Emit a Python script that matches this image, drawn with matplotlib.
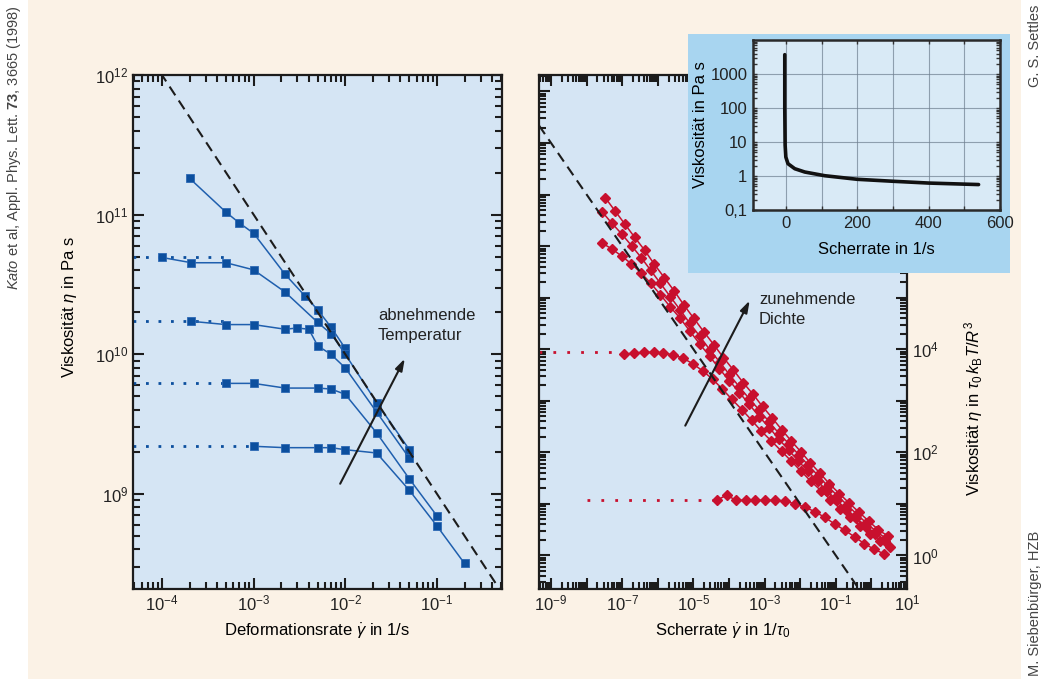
import numpy as np
import matplotlib.pyplot as plt
from matplotlib import font_manager
from matplotlib.patches import Rectangle
from matplotlib.ticker import LogLocator, NullFormatter

names = {f.name for f in font_manager.fontManager.ttflist}
font = 'Liberation Sans Narrow' if 'Liberation Sans Narrow' in names else 'Liberation Sans'
plt.rcParams['font.family'] = [font, 'DejaVu Sans']
plt.rcParams['mathtext.fontset'] = 'custom'
plt.rcParams['mathtext.rm'] = font
plt.rcParams['mathtext.it'] = font + ':italic'
plt.rcParams['mathtext.bf'] = font + ':bold'

# left panel: viscosity vs deformation rate (Pa s, 1/s)
s1_x = [2e-4, 5e-4, 7e-4, 1e-3, 2.2e-3, 3.6e-3, 5e-3, 7e-3, 1e-2]
s1_y = [1.82e11, 1.04e11, 8.7e10, 7.35e10, 3.74e10, 2.63e10, 2.08e10, 1.56e10, 1.1e10]
s2_x = [1e-4, 2.1e-4, 5e-4, 1e-3, 2.2e-3, 5e-3, 7e-3, 1e-2, 2.2e-2, 5e-2]
s2_y = [4.93e10, 4.52e10, 4.52e10, 4.02e10, 2.79e10, 1.69e10, 1.4e10, 1.0e10, 4.5e9, 2.07e9]
s3_x = [2.1e-4, 5e-4, 1e-3, 2.2e-3, 3e-3, 4e-3, 5e-3, 7e-3, 1e-2, 2.2e-2, 5e-2]
s3_y = [1.72e10, 1.63e10, 1.63e10, 1.51e10, 1.54e10, 1.51e10, 1.15e10, 9.96e9, 7.98e9, 3.85e9, 1.8e9]
s4_x = [5e-4, 1e-3, 2.2e-3, 5e-3, 7e-3, 1e-2, 2.2e-2, 5e-2, 1e-1]
s4_y = [6.18e9, 6.18e9, 5.72e9, 5.72e9, 5.63e9, 5.16e9, 2.73e9, 1.28e9, 6.95e8]
s5_x = [1e-3, 2.2e-3, 5e-3, 7e-3, 1e-2, 2.2e-2, 5e-2, 1e-1, 2e-1]
s5_y = [2.19e9, 2.14e9, 2.14e9, 2.14e9, 2.07e9, 1.96e9, 1.06e9, 5.89e8, 3.17e8]
left_plateau_y = [4.93e10, 1.72e10, 6.18e9, 2.19e9]
left_plateau_end = [5e-4, 5e-4, 5e-4, 1e-3]
left_xlim = (4.83e-5, 0.513)
left_ylim = (2.08e8, 1e12)
left_limit_c = 1e8          # dashed line eta = c / rate

# right panel: log10 values, shear rate in 1/tau0, viscosity in tau0 kB T / R^3
a_lx = [-7.48, -7.21, -6.93, -6.65, -6.37, -6.10, -5.82, -5.54, -5.26, -4.99, -4.71, -4.43,
        -4.16, -3.88, -3.60, -3.33, -3.06, -2.79, -2.52, -2.25, -1.98, -1.72, -1.45, -1.18,
        -0.90, -0.63, -0.35, -0.08, 0.19, 0.48]
a_ly = [6.94, 6.69, 6.43, 6.17, 5.92, 5.65, 5.39, 5.13, 4.85, 4.60, 4.34, 4.09,
        3.84, 3.60, 3.35, 3.13, 2.89, 2.67, 2.44, 2.22, 2.01, 1.80, 1.60, 1.39,
        1.20, 1.02, 0.84, 0.67, 0.50, 0.37]
b_lx = [-7.57, -7.30, -7.02, -6.74, -6.47, -6.20, -5.93, -5.65, -5.37, -5.10, -4.82, -4.54,
        -4.26, -3.99, -3.71, -3.43, -3.15, -2.87, -2.59, -2.31, -2.04, -1.77, -1.50, -1.23,
        -0.96, -0.68, -0.41, -0.14, 0.13, 0.41]
b_ly = [6.67, 6.45, 6.24, 6.01, 5.78, 5.53, 5.28, 5.02, 4.76, 4.50, 4.25, 3.99,
        3.75, 3.51, 3.27, 3.04, 2.82, 2.59, 2.36, 2.16, 1.95, 1.75, 1.55, 1.35,
        1.16, 0.98, 0.80, 0.63, 0.47, 0.33]
c_lx = [-7.57, -7.30, -7.02, -6.75, -6.47, -6.20, -5.93, -5.65, -5.37, -5.10, -4.82, -4.54,
        -4.27, -3.99, -3.71, -3.43, -3.15, -2.87, -2.59, -2.32, -2.05, -1.78, -1.51, -1.24,
        -0.97, -0.70, -0.43, -0.16, 0.11, 0.39]
c_ly = [6.06, 5.95, 5.81, 5.66, 5.48, 5.28, 5.06, 4.82, 4.60, 4.35, 4.10, 3.86,
        3.62, 3.39, 3.16, 2.93, 2.69, 2.48, 2.25, 2.04, 1.83, 1.63, 1.44, 1.25,
        1.07, 0.89, 0.72, 0.56, 0.41, 0.28]
d_lx = [-6.95, -6.67, -6.40, -6.12, -5.85, -5.57, -5.30, -5.02, -4.74, -4.46, -4.19, -3.92,
        -3.64, -3.36, -3.09, -2.81, -2.52, -2.25, -1.97, -1.70, -1.42, -1.15, -0.88, -0.60,
        -0.32, -0.05, 0.24, 0.52]
d_ly = [3.90, 3.93, 3.94, 3.94, 3.93, 3.89, 3.83, 3.72, 3.58, 3.42, 3.23, 3.03,
        2.83, 2.62, 2.41, 2.22, 2.02, 1.83, 1.63, 1.44, 1.26, 1.08, 0.91, 0.74,
        0.58, 0.42, 0.29, 0.17]
e_lx = [-4.35, -4.07, -3.80, -3.53, -3.26, -2.98, -2.71, -2.43, -2.15, -1.87, -1.59, -1.31,
        -1.03, -0.75, -0.47, -0.20, 0.08, 0.36]
e_ly = [1.07, 1.17, 1.07, 1.07, 1.07, 1.07, 1.07, 1.06, 1.00, 0.94, 0.85, 0.74,
        0.61, 0.49, 0.36, 0.23, 0.12, 0.03]
right_plateau_ly = [3.94, 1.07]
right_plateau_lx = [(-9.34, -7.05), (-8.0, -4.40)]
right_lxlim = (-9.34, 1.0)
right_lylim = (-0.65, 9.32)
right_limit_c = 0.1

# inset: viscosity (Pa s) vs shear rate (1/s)
ins_x = [-3, -3, -2, 0, 6, 25, 53, 109, 200, 300, 400, 540]
ins_y = [3700, 100, 8, 3.6, 2.3, 1.64, 1.31, 1.02, 0.80, 0.70, 0.62, 0.56]

cream = '#fbf2e6'
panel = '#d5e5f4'
blue = '#0c4f9e'
red = '#c8102e'
ink = '#1c1c1c'

fig = plt.figure(figsize=(10.46, 6.79), dpi=100, facecolor='white')
fig.patches.append(Rectangle((28 / 1046, 0), (1021 - 28) / 1046, 1, transform=fig.transFigure,
                             facecolor=cream, edgecolor='none', zorder=-10))


def style(ax):
    ax.set_facecolor(panel)
    ax.set_xscale('log')
    ax.set_yscale('log')
    ax.tick_params(which='both', direction='in', top=True, right=True, width=1.5,
                   color=ink, labelcolor='#222222', labelsize=12)
    ax.tick_params(which='major', length=8)
    ax.tick_params(which='minor', length=5)
    for s in ax.spines.values():
        s.set_linewidth(1.6)
        s.set_color(ink)
    for axis in (ax.xaxis, ax.yaxis):
        axis.set_minor_locator(LogLocator(base=10, subs=np.arange(2, 10), numticks=100))
        axis.set_minor_formatter(NullFormatter())


# ---------- left panel ----------
ax1 = fig.add_axes([133 / 1046, 90 / 679, 369 / 1046, 514 / 679])
style(ax1)
ax1.set_xlim(*left_xlim)
ax1.set_ylim(*left_ylim)
for py, pe in zip(left_plateau_y, left_plateau_end):
    ax1.plot([left_xlim[0], pe], [py, py], color=blue, lw=2, ls=(0, (1, 3.5)))
for xs, ys in [(s1_x, s1_y), (s2_x, s2_y), (s3_x, s3_y), (s4_x, s4_y), (s5_x, s5_y)]:
    ax1.plot(xs, ys, color='#1f5fae', lw=1.1, marker='s', ms=6, mfc=blue, mec='#2c68b4', mew=0.6)
gl = np.logspace(np.log10(left_xlim[0]), np.log10(left_xlim[1]), 50)
ax1.plot(gl, left_limit_c / gl, color=ink, lw=1.5, ls=(0, (5, 3)))
ax1.set_xticks([1e-4, 1e-3, 1e-2, 1e-1])
ax1.set_yticks([1e9, 1e10, 1e11, 1e12])
ax1.set_xlim(*left_xlim)
ax1.set_ylim(*left_ylim)
ax1.set_xlabel(r'Deformationsrate $\dot{\gamma}$ in 1/s', fontsize=12, labelpad=6)
ax1.set_ylabel(r'Viskosität $\eta$ in Pa s', fontsize=12)
ax1.yaxis.set_label_coords(-0.145, 0.549)
ax1.annotate('', xy=(0.740, 0.453), xytext=(0.558, 0.200), xycoords='axes fraction',
             arrowprops=dict(arrowstyle='-|>,head_length=0.7,head_width=0.22', color=ink, lw=1.5))
ax1.text(0.664, 0.547, 'abnehmende\nTemperatur', transform=ax1.transAxes, fontsize=12,
         va='top', ha='left', linespacing=1.4, color='#222222')

# ---------- right panel ----------
ax2 = fig.add_axes([539 / 1046, 90 / 679, 368 / 1046, 514 / 679])
style(ax2)
xl = (10 ** right_lxlim[0], 10 ** right_lxlim[1])
yl = (10 ** right_lylim[0], 10 ** right_lylim[1])
for ply, (x0, x1) in zip(right_plateau_ly, right_plateau_lx):
    ax2.plot([10 ** x0, 10 ** x1], [10 ** ply, 10 ** ply], color=red, lw=2, ls=(0, (1, 4)))
for lx, ly in [(a_lx, a_ly), (b_lx, b_ly), (c_lx, c_ly), (d_lx, d_ly), (e_lx, e_ly)]:
    ax2.plot(10 ** np.array(lx), 10 ** np.array(ly), color=red, lw=1.1, marker='D', ms=4.8,
             mfc=red, mec=red)
gr = np.logspace(right_lxlim[0], right_lxlim[1], 50)
ax2.plot(gr, right_limit_c / gr, color=ink, lw=1.5, ls=(0, (5, 3)))
xt = [10.0 ** k for k in range(-9, 2)]
ax2.set_xticks(xt, [r'$10^{%d}$' % k if k % 2 else '' for k in range(-9, 2)])
yt = [10.0 ** k for k in range(0, 10)]
# 10^6 and 10^8 sit under the inset, so only the visible ones are labelled
ax2.set_yticks(yt, [r'$10^{%d}$' % k if k in (0, 2, 4) else '' for k in range(0, 10)])
ax2.set_xlim(*xl)
ax2.set_ylim(*yl)
ax2.tick_params(axis='y', labelleft=False, labelright=True)
ax2.set_xlabel(r'Scherrate $\dot{\gamma}$ in 1/$\tau_0$', fontsize=12, labelpad=6)
ax2.yaxis.set_label_position('right')
ax2.set_ylabel(r'Viskosität $\eta$ in $\tau_0\,k_\mathrm{B}T/R^3$', fontsize=12)
ax2.yaxis.set_label_coords(1.15, 0.352)
ax2.annotate('', xy=(0.576, 0.566), xytext=(0.394, 0.313), xycoords='axes fraction',
             arrowprops=dict(arrowstyle='-|>,head_length=0.7,head_width=0.22', color=ink, lw=1.5))
ax2.text(0.598, 0.578, 'zunehmende\nDichte', transform=ax2.transAxes, fontsize=12,
         va='top', ha='left', linespacing=1.4, color='#222222')

# ---------- inset ----------
bg = fig.add_axes([688 / 1046, (679 - 272.7) / 679, 322 / 1046, 238.7 / 679])
bg.set_facecolor('#a8d5f0')
bg.set_xticks([])
bg.set_yticks([])
for s in bg.spines.values():
    s.set_visible(False)

ax3 = fig.add_axes([753 / 1046, (679 - 210) / 679, 247 / 1046, 170 / 679])
ax3.set_facecolor('#d9eaf6')
ax3.set_yscale('log')
ax3.plot(ins_x, ins_y, color='#111111', lw=2.6, solid_capstyle='round')
ax3.set_xlim(-92, 600)
ax3.set_ylim(0.1, 1e4)
ax3.set_xticks([0, 200, 400, 600])
ax3.set_xticks([100, 300, 500], minor=True)
ax3.set_yticks([0.1, 1, 10, 100, 1000], ['0,1', '1', '10', '100', '1000'])
ax3.yaxis.set_minor_locator(LogLocator(base=10, subs=np.arange(2, 10), numticks=100))
ax3.yaxis.set_minor_formatter(NullFormatter())
ax3.grid(True, which='major', color='#6f7f90', lw=0.8, alpha=0.7)
ax3.grid(True, which='minor', axis='x', color='#6f7f90', lw=0.8, alpha=0.7)
ax3.tick_params(which='both', direction='in', top=True, right=True, length=3, width=1,
                color='#333333', labelsize=12, labelcolor='#222222', pad=4)
for s in ax3.spines.values():
    s.set_linewidth(1.8)
    s.set_color('#2a2a2a')
ax3.set_xlabel('Scherrate in 1/s', fontsize=12, labelpad=8)
ax3.set_ylabel('Viskosität in Pa s', fontsize=12, labelpad=2)

# ---------- side credits ----------
fig.text(14 / 1046, 1 - 5 / 679,
         r'$\it{Kato}$ et al, Appl. Phys. Lett. $\bf{73}$, 3665 (1998)',
         rotation=90, ha='center', va='top', fontsize=10.5, color='#444444')
fig.text(1035 / 1046, 1 - 5 / 679, 'G. S. Settles', rotation=90, ha='center', va='top',
         fontsize=10.5, color='#444444')
fig.text(1035 / 1046, 3 / 679, 'M. Siebenbürger, HZB', rotation=90, ha='center',
         va='bottom', fontsize=10.5, color='#444444')

fig.savefig('out.png', dpi=100, facecolor=fig.get_facecolor())
